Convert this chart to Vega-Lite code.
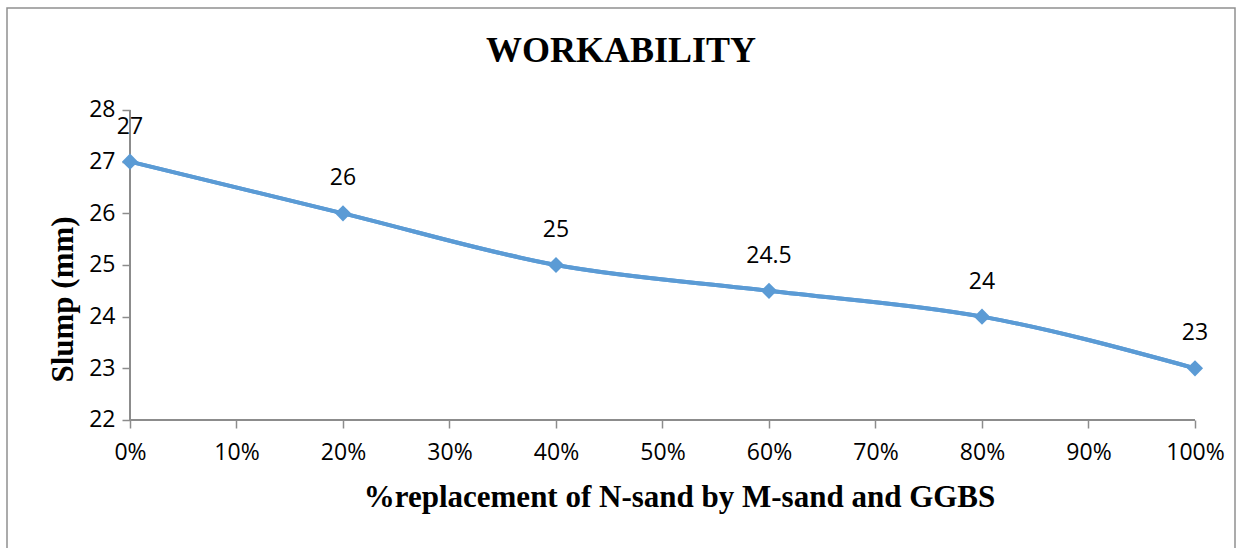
{
  "$schema": "https://vega.github.io/schema/vega-lite/v6.json",
  "width": 1228,
  "height": 552,
  "autosize": {"type": "none"},
  "padding": {"left": 7, "top": 8, "right": 1, "bottom": 0},
  "background": "white",
  "config": {
    "view": {"stroke": "#909090", "strokeWidth": 1.5},
    "font": "Open Sans"
  },
  "title": {
    "text": "WORKABILITY",
    "font": "Liberation Serif",
    "fontSize": 36,
    "fontWeight": "bold",
    "color": "black",
    "anchor": "middle",
    "frame": "group",
    "orient": "top",
    "baseline": "alphabetic",
    "offset": -90
  },
  "data": {
    "values": [
      {"pct": 0, "slump": 27},
      {"pct": 20, "slump": 26},
      {"pct": 40, "slump": 25},
      {"pct": 60, "slump": 24.5},
      {"pct": 80, "slump": 24},
      {"pct": 100, "slump": 23}
    ]
  },
  "layer": [
    {
      "mark": {"type": "line", "interpolate": "monotone", "color": "#5b9bd5", "strokeWidth": 4},
      "encoding": {
        "x": {
          "field": "pct",
          "type": "quantitative",
          "scale": {"domain": [-11.549, 103.756], "nice": false, "zero": false},
          "axis": {
            "values": [0, 10, 20, 30, 40, 50, 60, 70, 80, 90, 100],
            "labelExpr": "datum.value + '%'",
            "domain": false,
            "grid": false,
            "offset": -140,
            "ticks": true,
            "tickColor": "#8c8c8c",
            "tickSize": 8,
            "tickWidth": 1.5,
            "labelFont": "Open Sans",
            "labelFontSize": 23,
            "labelColor": "black",
            "labelPadding": 13,
            "labelFlush": false,
            "labelOverlap": false,
            "title": "%replacement of N-sand by M-sand and GGBS",
            "titleFont": "Liberation Serif",
            "titleFontSize": 31,
            "titleFontWeight": "bold",
            "titleColor": "black",
            "titleBaseline": "alphabetic",
            "titleAlign": "center",
            "titleX": 672,
            "titleY": 86
          }
        },
        "y": {
          "field": "slump",
          "type": "quantitative",
          "scale": {"domain": [19.29, 29.974], "nice": false, "zero": false},
          "axis": {
            "values": [22, 23, 24, 25, 26, 27, 28],
            "domain": false,
            "grid": false,
            "offset": -123,
            "tickColor": "#8c8c8c",
            "tickSize": 8,
            "tickWidth": 1.5,
            "labelFont": "Open Sans",
            "labelFontSize": 23,
            "labelColor": "black",
            "labelPadding": 7,
            "labelFlush": false,
            "labelOverlap": false,
            "title": "Slump (mm)",
            "titleFont": "Liberation Serif",
            "titleFontSize": 31,
            "titleFontWeight": "bold",
            "titleColor": "black",
            "titleBaseline": "alphabetic",
            "titleAlign": "center",
            "titleAngle": 270,
            "titleX": -58,
            "titleY": 291
          }
        }
      }
    },
    {
      "mark": {"type": "rule", "color": "#8c8c8c", "strokeWidth": 1.5},
      "encoding": {
        "x": {"datum": 0, "type": "quantitative"},
        "y": {"datum": 22, "type": "quantitative"},
        "y2": {"datum": 28}
      }
    },
    {
      "mark": {"type": "rule", "color": "#8c8c8c", "strokeWidth": 1.5},
      "encoding": {
        "x": {"datum": 0, "type": "quantitative"},
        "x2": {"datum": 100},
        "y": {"datum": 22, "type": "quantitative"}
      }
    },
    {
      "mark": {"type": "line", "interpolate": "monotone", "color": "#5b9bd5", "strokeWidth": 4},
      "encoding": {
        "x": {"field": "pct", "type": "quantitative"},
        "y": {"field": "slump", "type": "quantitative"}
      }
    },
    {
      "mark": {"type": "point", "shape": "diamond", "filled": true, "color": "#5b9bd5", "size": 260, "opacity": 1},
      "encoding": {
        "x": {"field": "pct", "type": "quantitative"},
        "y": {"field": "slump", "type": "quantitative"}
      }
    },
    {
      "mark": {"type": "text", "dy": -28, "baseline": "alphabetic", "align": "center", "font": "Open Sans", "fontSize": 23, "color": "black"},
      "encoding": {
        "x": {"field": "pct", "type": "quantitative"},
        "y": {"field": "slump", "type": "quantitative"},
        "text": {"field": "slump", "type": "quantitative", "format": "~f"}
      }
    }
  ]
}
